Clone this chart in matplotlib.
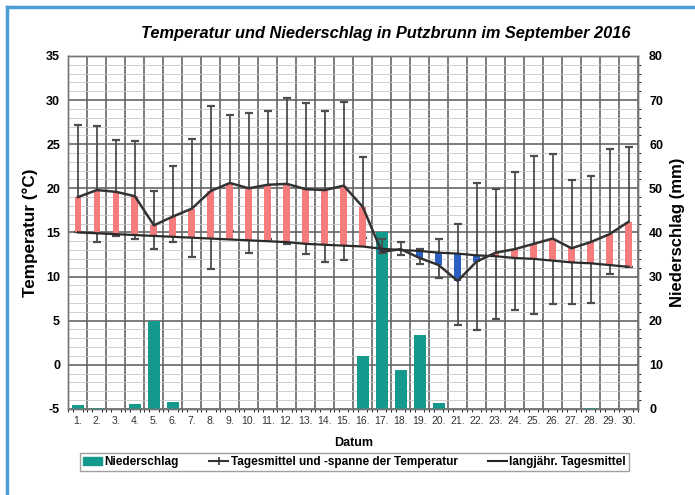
import numpy as np
import matplotlib.pyplot as plt
from matplotlib.lines import Line2D
from matplotlib.patches import Patch
from matplotlib.ticker import MultipleLocator

plt.rcParams['font.family'] = ['Liberation Sans', 'DejaVu Sans']
plt.rcParams['axes.unicode_minus'] = False

# Daten September 2016
days = np.arange(1, 31)
day_labels = [f'{d}.' for d in days]
t_mean = [19.0, 19.8, 19.6, 19.1, 15.8, 16.8, 17.7, 19.7, 20.6, 20.0,
          20.4, 20.5, 19.9, 19.8, 20.3, 17.9, 12.8, 13.1, 12.1, 11.3,
          9.5, 11.7, 12.7, 13.1, 13.7, 14.3, 13.2, 13.9, 14.8, 16.2]
t_max = [27.2, 27.1, 25.5, 25.4, 19.7, 22.5, 25.6, 29.3, 28.3, 28.5,
         28.8, 30.2, 29.7, 28.8, 29.8, 23.6, 14.3, 13.9, 13.1, 14.2,
         16.0, 20.6, 19.9, 21.9, 23.7, 23.9, 20.9, 21.4, 24.5, 24.7]
t_min = [15.0, 13.9, 14.6, 14.2, 13.1, 13.9, 12.2, 10.9, 15.2, 12.7,
         14.3, 13.7, 12.6, 11.6, 11.9, 14.4, 12.7, 12.4, 11.4, 9.8,
         4.5, 3.9, 5.2, 6.2, 5.7, 6.9, 6.9, 7.0, 10.3, 11.1]
t_long = [15.0, 14.9, 14.8, 14.7, 14.6, 14.5, 14.4, 14.3, 14.2, 14.1,
          14.0, 13.9, 13.7, 13.6, 13.5, 13.4, 13.15, 13.0, 12.9, 12.7,
          12.6, 12.4, 12.3, 12.1, 12.0, 11.8, 11.6, 11.5, 11.3, 11.1]
precip = [0.8, 0.3, 0.0, 1.1, 20.0, 1.5, 0.0, 0.0, 0.0, 0.0,
          0.0, 0.0, 0.0, 0.0, 0.0, 12.0, 40.0, 8.8, 16.8, 1.3,
          0.0, 0.0, 0.0, 0.0, 0.0, 0.0, 0.0, 0.1, 0.0, 0.0]

t_mean = np.array(t_mean)
t_long = np.array(t_long)

fig = plt.figure(figsize=(6.95, 4.95), dpi=100)
ax = fig.add_axes([0.0985, 0.174, 0.8195, 0.713])
ax2 = ax.twinx()
ax.set_zorder(ax2.get_zorder() + 1)
ax.patch.set_visible(False)

# Raster
ax2.set_axisbelow(True)
ax2.set_xlim(0.5, 30.5)
ax2.set_ylim(0, 80)
ax2.xaxis.set_major_locator(MultipleLocator(1))
ax2.xaxis.set_minor_locator(MultipleLocator(0.25))
ax2.yaxis.set_major_locator(MultipleLocator(10))
ax2.yaxis.set_minor_locator(MultipleLocator(2))
ax2.grid(which='minor', color='#c8c8c8', lw=0.6)
ax2.grid(which='major', axis='y', color='#666666', lw=1.2)
for xv in np.arange(0.5, 31, 1):
    ax2.axvline(xv, color='#666666', lw=1.2, zorder=0.5)

# Niederschlag
ax2.bar(days, precip, width=0.63, color='#15998c', zorder=2)

# Temperatur
ax.set_xlim(0.5, 30.5)
ax.set_ylim(-5, 35)
diff_col = np.where(t_mean >= t_long, '#f47c7c', '#2c5fc2')
ax.errorbar(days, t_mean, yerr=[t_mean - np.array(t_min), np.array(t_max) - t_mean],
            fmt='none', ecolor='#4d4d4d', elinewidth=1.3, capsize=3, capthick=1.6, zorder=2)
ax.bar(days, t_mean - t_long, bottom=t_long, width=0.36, color=diff_col, zorder=3)
ax.plot(days, t_long, color='#2a2a2a', lw=1.6, zorder=4)
ax.plot(days, t_mean, color='#333333', lw=1.8, zorder=5)

ax.set_xticks(days)
ax.set_xticklabels(day_labels, fontsize=7.5, color='#333')
ax.yaxis.set_major_locator(MultipleLocator(5))
ax.tick_params(axis='y', labelsize=9, length=0, pad=6)
ax.tick_params(axis='x', length=0, pad=5)
for lab in ax.get_yticklabels():
    lab.set_fontweight('bold')
ax2.tick_params(axis='y', labelsize=9, length=0, pad=8)
ax2.tick_params(axis='x', length=0, labelbottom=False)
for lab in ax2.get_yticklabels():
    lab.set_fontweight('bold')
for a in (ax, ax2):
    for s in a.spines.values():
        s.set_color('#777')
        s.set_linewidth(1.0)

ax.set_ylabel('Temperatur (°C)', fontsize=12.3, fontweight='bold', labelpad=6)
ax2.set_ylabel('Niederschlag (mm)', fontsize=12, fontweight='bold', labelpad=5)
ax.set_xlabel('Datum', fontsize=9, fontweight='bold', labelpad=8)
fig.text(0.907, 0.933, 'Temperatur und Niederschlag in Putzbrunn im September 2016',
         ha='right', va='center', fontsize=11.8, fontweight='bold', style='italic')

handles = [Patch(color='#15998c'),
           Line2D([], [], color='#333', lw=1.5, marker='|', markersize=6, mew=1.2),
           Line2D([], [], color='#222', lw=1.5)]
labels = ['Niederschlag', 'Tagesmittel und -spanne der Temperatur', 'langjähr. Tagesmittel']
leg = fig.legend(handles, labels, loc='center', bbox_to_anchor=(0.51, 0.066), ncol=3,
                 frameon=True, fancybox=False, handlelength=1.6,
                 handletextpad=0.2, columnspacing=2.6, borderpad=0.25,
                 prop={'weight': 'bold', 'size': 8.5})
leg.get_frame().set_edgecolor('#888')
leg.get_frame().set_linewidth(1.0)

# blauer Rahmen
fig.add_artist(Line2D([7/695, 1], [1 - 7/495, 1 - 7/495], color='#4a9fd6', lw=2.5,
                      transform=fig.transFigure))
fig.add_artist(Line2D([7/695, 7/695], [0, 1 - 7/495], color='#4a9fd6', lw=2.5,
                      transform=fig.transFigure))

fig.savefig('out.png', dpi=100)
